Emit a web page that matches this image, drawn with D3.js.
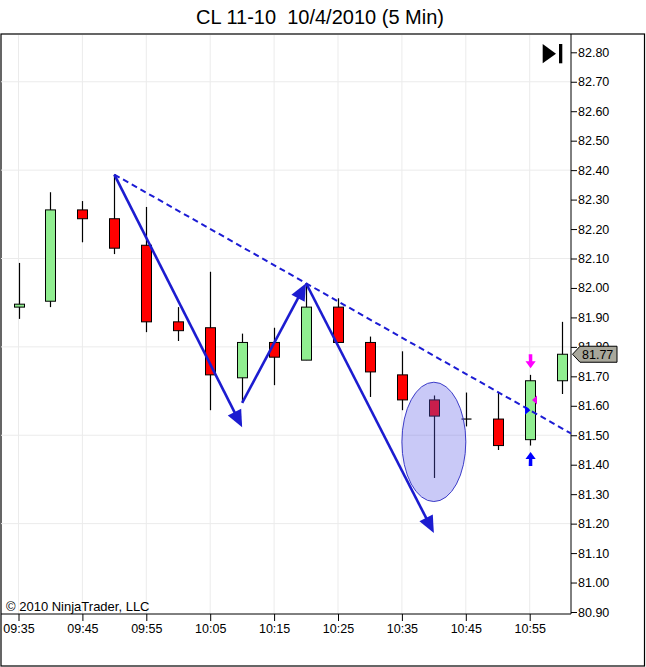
<!DOCTYPE html>
<html><head><meta charset="utf-8">
<script src="https://cdn.jsdelivr.net/npm/d3@7"></script>
<style>
body{margin:0;background:#fff;}
svg{display:block;font-family:"Liberation Sans",Arial,sans-serif;}
</style></head><body>
<svg id="c" width="646" height="667"></svg>
<script>
const times  = ["09:35","09:40","09:45","09:50","09:55","10:00","10:05","10:10","10:15","10:20","10:25","10:30","10:35","10:40","10:45","10:50","10:55","11:00"];
const opens  = [81.935,81.955,82.265,82.235,82.145,81.885,81.865,81.695,81.815,81.755,81.935,81.815,81.705,81.620,81.555,81.555,81.485,81.685];
const highs  = [82.085,82.325,82.295,82.385,82.275,81.935,82.055,81.845,81.865,82.015,81.965,81.835,81.785,81.635,81.645,81.645,81.705,81.885];
const lows   = [81.895,81.935,82.155,82.115,81.850,81.820,81.585,81.610,81.670,81.755,81.815,81.630,81.585,81.355,81.530,81.450,81.465,81.640];
const closes = [81.945,82.265,82.235,82.135,81.885,81.855,81.705,81.815,81.765,81.935,81.815,81.715,81.620,81.565,81.555,81.465,81.685,81.775];
const yTicks = [82.80,82.70,82.60,82.50,82.40,82.30,82.20,82.10,82.00,81.90,81.80,81.70,81.60,81.50,81.40,81.30,81.20,81.10,81.00,80.90];
const yGrid  = [82.70,82.40,82.10,81.80,81.50,81.20];
const xTickIdx = [0,2,4,6,8,10,12,14,16];
// drawings: [startIdx, startPrice, endIdx, endPrice]
const arrows = [[3,82.385,7,81.527],[7,81.610,9,82.016],[9,82.016,13,81.168]];
const trendLine = [3,82.385,9,82.016];
const ellipseBox = [12,81.680,14,81.275];
const lastPrice = 81.77;
const execIdx = 16, buyPrice = 81.585, sellPrice = 81.62;

const svg = d3.select("#c");
const L=1, R=571, T=34, B=614;
const x = d3.scaleLinear().domain([0,17]).range([18.5, 18.5+17*31.95]);
const y = d3.scaleLinear().domain([80.90,82.80]).range([612,52.3]);

// title
svg.append("text").attr("x",320).attr("y",24).attr("text-anchor","middle")
  .attr("font-size",20).attr("fill","#000").text("CL 11-10\u00a0\u00a010/4/2010 (5 Min)");

// frame
svg.append("rect").attr("x",1).attr("y",T).attr("width",643.5).attr("height",666-T)
  .attr("fill","#fff").attr("stroke","#000").attr("stroke-width",1.2);

svg.append("defs").append("clipPath").attr("id","clip").append("rect")
  .attr("x",L).attr("y",T).attr("width",R-L).attr("height",B-T);

// grid
const g = svg.append("g");
g.selectAll(".vg").data(xTickIdx).join("line").attr("x1",d=>x(d)).attr("x2",d=>x(d))
  .attr("y1",T+1).attr("y2",B).attr("stroke","#ebebeb");
g.selectAll(".hg").data(yGrid).join("line").attr("x1",L).attr("x2",R)
  .attr("y1",d=>y(d)).attr("y2",d=>y(d)).attr("stroke","#ebebeb");

// axes
const ya = svg.append("g").attr("transform",`translate(${R},0)`)
  .call(d3.axisRight(y).tickValues(yTicks).tickSize(6).tickPadding(1).tickFormat(d3.format(".2f")));
ya.select(".domain").remove();
ya.selectAll("text").attr("font-size",12.5).attr("fill","#000").attr("font-family","Liberation Sans, Arial, sans-serif");
ya.selectAll("line").attr("stroke","#000");
const xa = svg.append("g").attr("transform",`translate(0,${B})`)
  .call(d3.axisBottom(x).tickValues(xTickIdx).tickSize(7).tickPadding(3).tickFormat(i=>times[i]));
xa.select(".domain").remove();
xa.selectAll("text").attr("font-size",12.5).attr("fill","#000").attr("font-family","Liberation Sans, Arial, sans-serif");
xa.selectAll("line").attr("stroke","#000");
svg.append("line").attr("x1",L).attr("x2",R).attr("y1",B).attr("y2",B).attr("stroke","#000");
svg.append("line").attr("x1",R).attr("x2",R).attr("y1",T).attr("y2",B).attr("stroke","#000");

const plot = svg.append("g").attr("clip-path","url(#clip)");
const bars = d3.range(times.length).map(i=>({i,o:opens[i],h:highs[i],l:lows[i],c:closes[i]}));
const bw = 10;
plot.selectAll(".wick").data(bars).join("line")
  .attr("x1",d=>Math.round(x(d.i))+0.5).attr("x2",d=>Math.round(x(d.i))+0.5)
  .attr("y1",d=>y(d.h)).attr("y2",d=>y(d.l)).attr("stroke","#000").attr("stroke-width",1.2);
plot.selectAll(".body").data(bars.filter(d=>d.o!==d.c)).join("rect")
  .attr("x",d=>Math.round(x(d.i))+0.5-bw/2).attr("width",bw)
  .attr("y",d=>y(Math.max(d.o,d.c))).attr("height",d=>Math.max(1.5,Math.abs(y(d.o)-y(d.c))))
  .attr("fill",d=>d.c>d.o?"#90ee90":"#ff0000").attr("stroke","#000").attr("stroke-width",1);
plot.selectAll(".doji").data(bars.filter(d=>d.o===d.c)).join("line")
  .attr("x1",d=>Math.round(x(d.i))+0.5-bw/2).attr("x2",d=>Math.round(x(d.i))+0.5+bw/2)
  .attr("y1",d=>y(d.o)).attr("y2",d=>y(d.o)).attr("stroke","#000").attr("stroke-width",1.2);

// ellipse
const ex0=x(ellipseBox[0]), ex1=x(ellipseBox[2]), ey0=y(ellipseBox[1]), ey1=y(ellipseBox[3]);
plot.append("ellipse").attr("cx",(ex0+ex1)/2).attr("cy",(ey0+ey1)/2)
  .attr("rx",(ex1-ex0)/2).attr("ry",(ey1-ey0)/2)
  .attr("fill","rgba(90,90,230,0.33)").attr("stroke","#3c3cc8").attr("stroke-width",1);

// dashed trend line extended
const slope=(trendLine[3]-trendLine[1])/(trendLine[2]-trendLine[0]);
const xe = x.invert(R);
plot.append("line").attr("x1",x(trendLine[0])).attr("y1",y(trendLine[1]))
  .attr("x2",x(xe)).attr("y2",y(trendLine[1]+slope*(xe-trendLine[0])))
  .attr("stroke","#1c1cd4").attr("stroke-width",2).attr("stroke-dasharray","6,4");

// arrows
const blue="#1c1cd0";
arrows.forEach(a=>{
  const x1=x(a[0]),y1=y(a[1]),x2=x(a[2]),y2=y(a[3]);
  const dx=x2-x1,dy=y2-y1,len=Math.hypot(dx,dy),ux=dx/len,uy=dy/len;
  const hl=17,hw=7.5;
  const bx=x2-ux*hl,by=y2-uy*hl;
  plot.append("line").attr("x1",x1).attr("y1",y1).attr("x2",bx+ux*2).attr("y2",by+uy*2)
    .attr("stroke",blue).attr("stroke-width",2.6);
  plot.append("path").attr("d",`M${x2},${y2}L${bx-uy*hw},${by+ux*hw}L${bx+uy*hw},${by-ux*hw}Z`).attr("fill",blue);
});

// execution markers
const ecx = Math.round(x(execIdx))+0.5;
const hy = y(highs[execIdx])-6.5, ly = y(lows[execIdx])+6.5;
svg.append("path").attr("d",`M${ecx-1.8},${hy-14}h3.6v7h3.4l-5.1,7l-5.1,-7h3.4z`).attr("fill","#ff00ff");
svg.append("path").attr("d",`M${ecx-1.8},${ly+14}h3.6v-7h3.4l-5.1,-7l-5.1,7h3.4z`).attr("fill","#0000ff");
const byy=y(buyPrice), syy=y(sellPrice);
svg.append("path").attr("d",`M${ecx-5.5},${byy-4.5}L${ecx},${byy}L${ecx-5.5},${byy+4.5}Z`).attr("fill","#0000ff");
svg.append("path").attr("d",`M${ecx+6.5},${syy-4.5}L${ecx+1.5},${syy}L${ecx+6.5},${syy+4.5}Z`).attr("fill","#ee00ee");

// last price label
const lpy = y(closes[closes.length-1]);
svg.append("path").attr("d",`M${R+1.5},${lpy}L${R+9},${lpy-8}H${R+46}V${lpy+8}H${R+9}Z`)
  .attr("fill","#a8a79b").attr("stroke","#000").attr("stroke-width",1);
svg.append("text").attr("x",R+11).attr("y",lpy+4.5).attr("font-size",12.5).attr("fill","#000").text(lastPrice.toFixed(2));

// icon
svg.append("path").attr("d","M542.7,44L556,53.7L542.7,63.3Z").attr("fill","#000");
svg.append("rect").attr("x",559).attr("y",44).attr("width",3.3).attr("height",19.3).attr("fill","#000");

// copyright
svg.append("text").attr("x",6).attr("y",611).attr("font-size",13).attr("fill","#000").text("\u00a9 2010 NinjaTrader, LLC");
</script></body></html>
